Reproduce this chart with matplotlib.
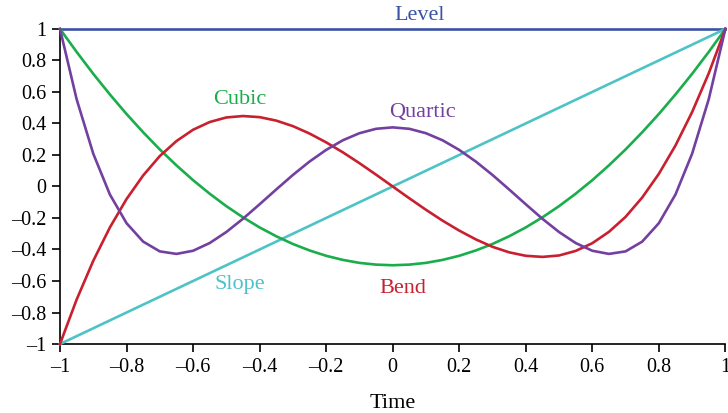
import matplotlib.pyplot as plt
from matplotlib.ticker import FuncFormatter

time = [-1.0, -0.95, -0.9, -0.85, -0.8, -0.75, -0.7, -0.65, -0.6, -0.55, -0.5,
        -0.45, -0.4, -0.35, -0.3, -0.25, -0.2, -0.15, -0.1, -0.05, 0.0,
        0.05, 0.1, 0.15, 0.2, 0.25, 0.3, 0.35, 0.4, 0.45, 0.5,
        0.55, 0.6, 0.65, 0.7, 0.75, 0.8, 0.85, 0.9, 0.95, 1.0]

level = [1.0] * 41

slope = [-1.0, -0.95, -0.9, -0.85, -0.8, -0.75, -0.7, -0.65, -0.6, -0.55, -0.5,
         -0.45, -0.4, -0.35, -0.3, -0.25, -0.2, -0.15, -0.1, -0.05, 0.0,
         0.05, 0.1, 0.15, 0.2, 0.25, 0.3, 0.35, 0.4, 0.45, 0.5,
         0.55, 0.6, 0.65, 0.7, 0.75, 0.8, 0.85, 0.9, 0.95, 1.0]

cubic = [1.0, 0.854, 0.715, 0.584, 0.46, 0.344, 0.235, 0.134, 0.04, -0.046, -0.125,
         -0.196, -0.26, -0.316, -0.365, -0.406, -0.44, -0.466, -0.485, -0.496, -0.5,
         -0.496, -0.485, -0.466, -0.44, -0.406, -0.365, -0.316, -0.26, -0.196, -0.125,
         -0.046, 0.04, 0.134, 0.235, 0.344, 0.46, 0.584, 0.715, 0.854, 1.0]

bend = [-1.0, -0.718, -0.472, -0.26, -0.08, 0.07, 0.193, 0.288, 0.36, 0.409, 0.438,
        0.447, 0.44, 0.418, 0.383, 0.336, 0.28, 0.217, 0.148, 0.075, 0.0,
        -0.075, -0.148, -0.217, -0.28, -0.336, -0.383, -0.418, -0.44, -0.447, -0.438,
        -0.409, -0.36, -0.288, -0.193, -0.07, 0.08, 0.26, 0.472, 0.718, 1.0]

quartic = [1.0, 0.554, 0.208, -0.051, -0.233, -0.35, -0.412, -0.428, -0.408, -0.359, -0.289,
           -0.205, -0.113, -0.019, 0.073, 0.158, 0.232, 0.293, 0.338, 0.366, 0.375,
           0.366, 0.338, 0.293, 0.232, 0.158, 0.073, -0.019, -0.113, -0.205, -0.289,
           -0.359, -0.408, -0.428, -0.412, -0.35, -0.233, -0.051, 0.208, 0.554, 1.0]

plt.rcParams["font.family"] = ["Liberation Serif", "DejaVu Serif"]
plt.rcParams["font.size"] = 14.5

fig = plt.figure(figsize=(7.28, 4.13), dpi=100)
ax = fig.add_axes([0.0824, 0.167, 0.914, 0.763])

# --- Curves (name, values, colour, label position) ---
series = [
    ("Level", level, "#3a53a4", (0.08, 1.085)),
    ("Slope", slope, "#4ec3c7", (-0.46, -0.62)),
    ("Cubic", cubic, "#1aad4b", (-0.46, 0.55)),
    ("Bend", bend, "#c8202f", (0.03, -0.65)),
    ("Quartic", quartic, "#7340a0", (0.09, 0.47)),
]
for name, vals, col, (lx, ly) in series:
    ax.plot(time, vals, color=col, lw=1.9, clip_on=False, zorder=3)
    ax.text(lx, ly, name, color=col, ha="center", va="center", fontsize=16,
            clip_on=False)

ax.set_xlim(-1, 1)
ax.set_ylim(-1, 1)
ax.set_xticks([-1, -0.8, -0.6, -0.4, -0.2, 0, 0.2, 0.4, 0.6, 0.8, 1])
ax.set_yticks([-1, -0.8, -0.6, -0.4, -0.2, 0, 0.2, 0.4, 0.6, 0.8, 1])


def fmt(v, pos):
    s = f"{v:g}"
    return s.replace("-", "\u2013")


ax.xaxis.set_major_formatter(FuncFormatter(fmt))
ax.yaxis.set_major_formatter(FuncFormatter(fmt))
ax.tick_params(direction="out", length=6, width=1.2, pad=4)
ax.spines["top"].set_visible(False)
ax.spines["right"].set_visible(False)
ax.spines["left"].set_linewidth(1.2)
ax.spines["bottom"].set_linewidth(1.2)
ax.set_xlabel("Time", fontsize=16, labelpad=12)

fig.savefig("out.png", dpi=100)
